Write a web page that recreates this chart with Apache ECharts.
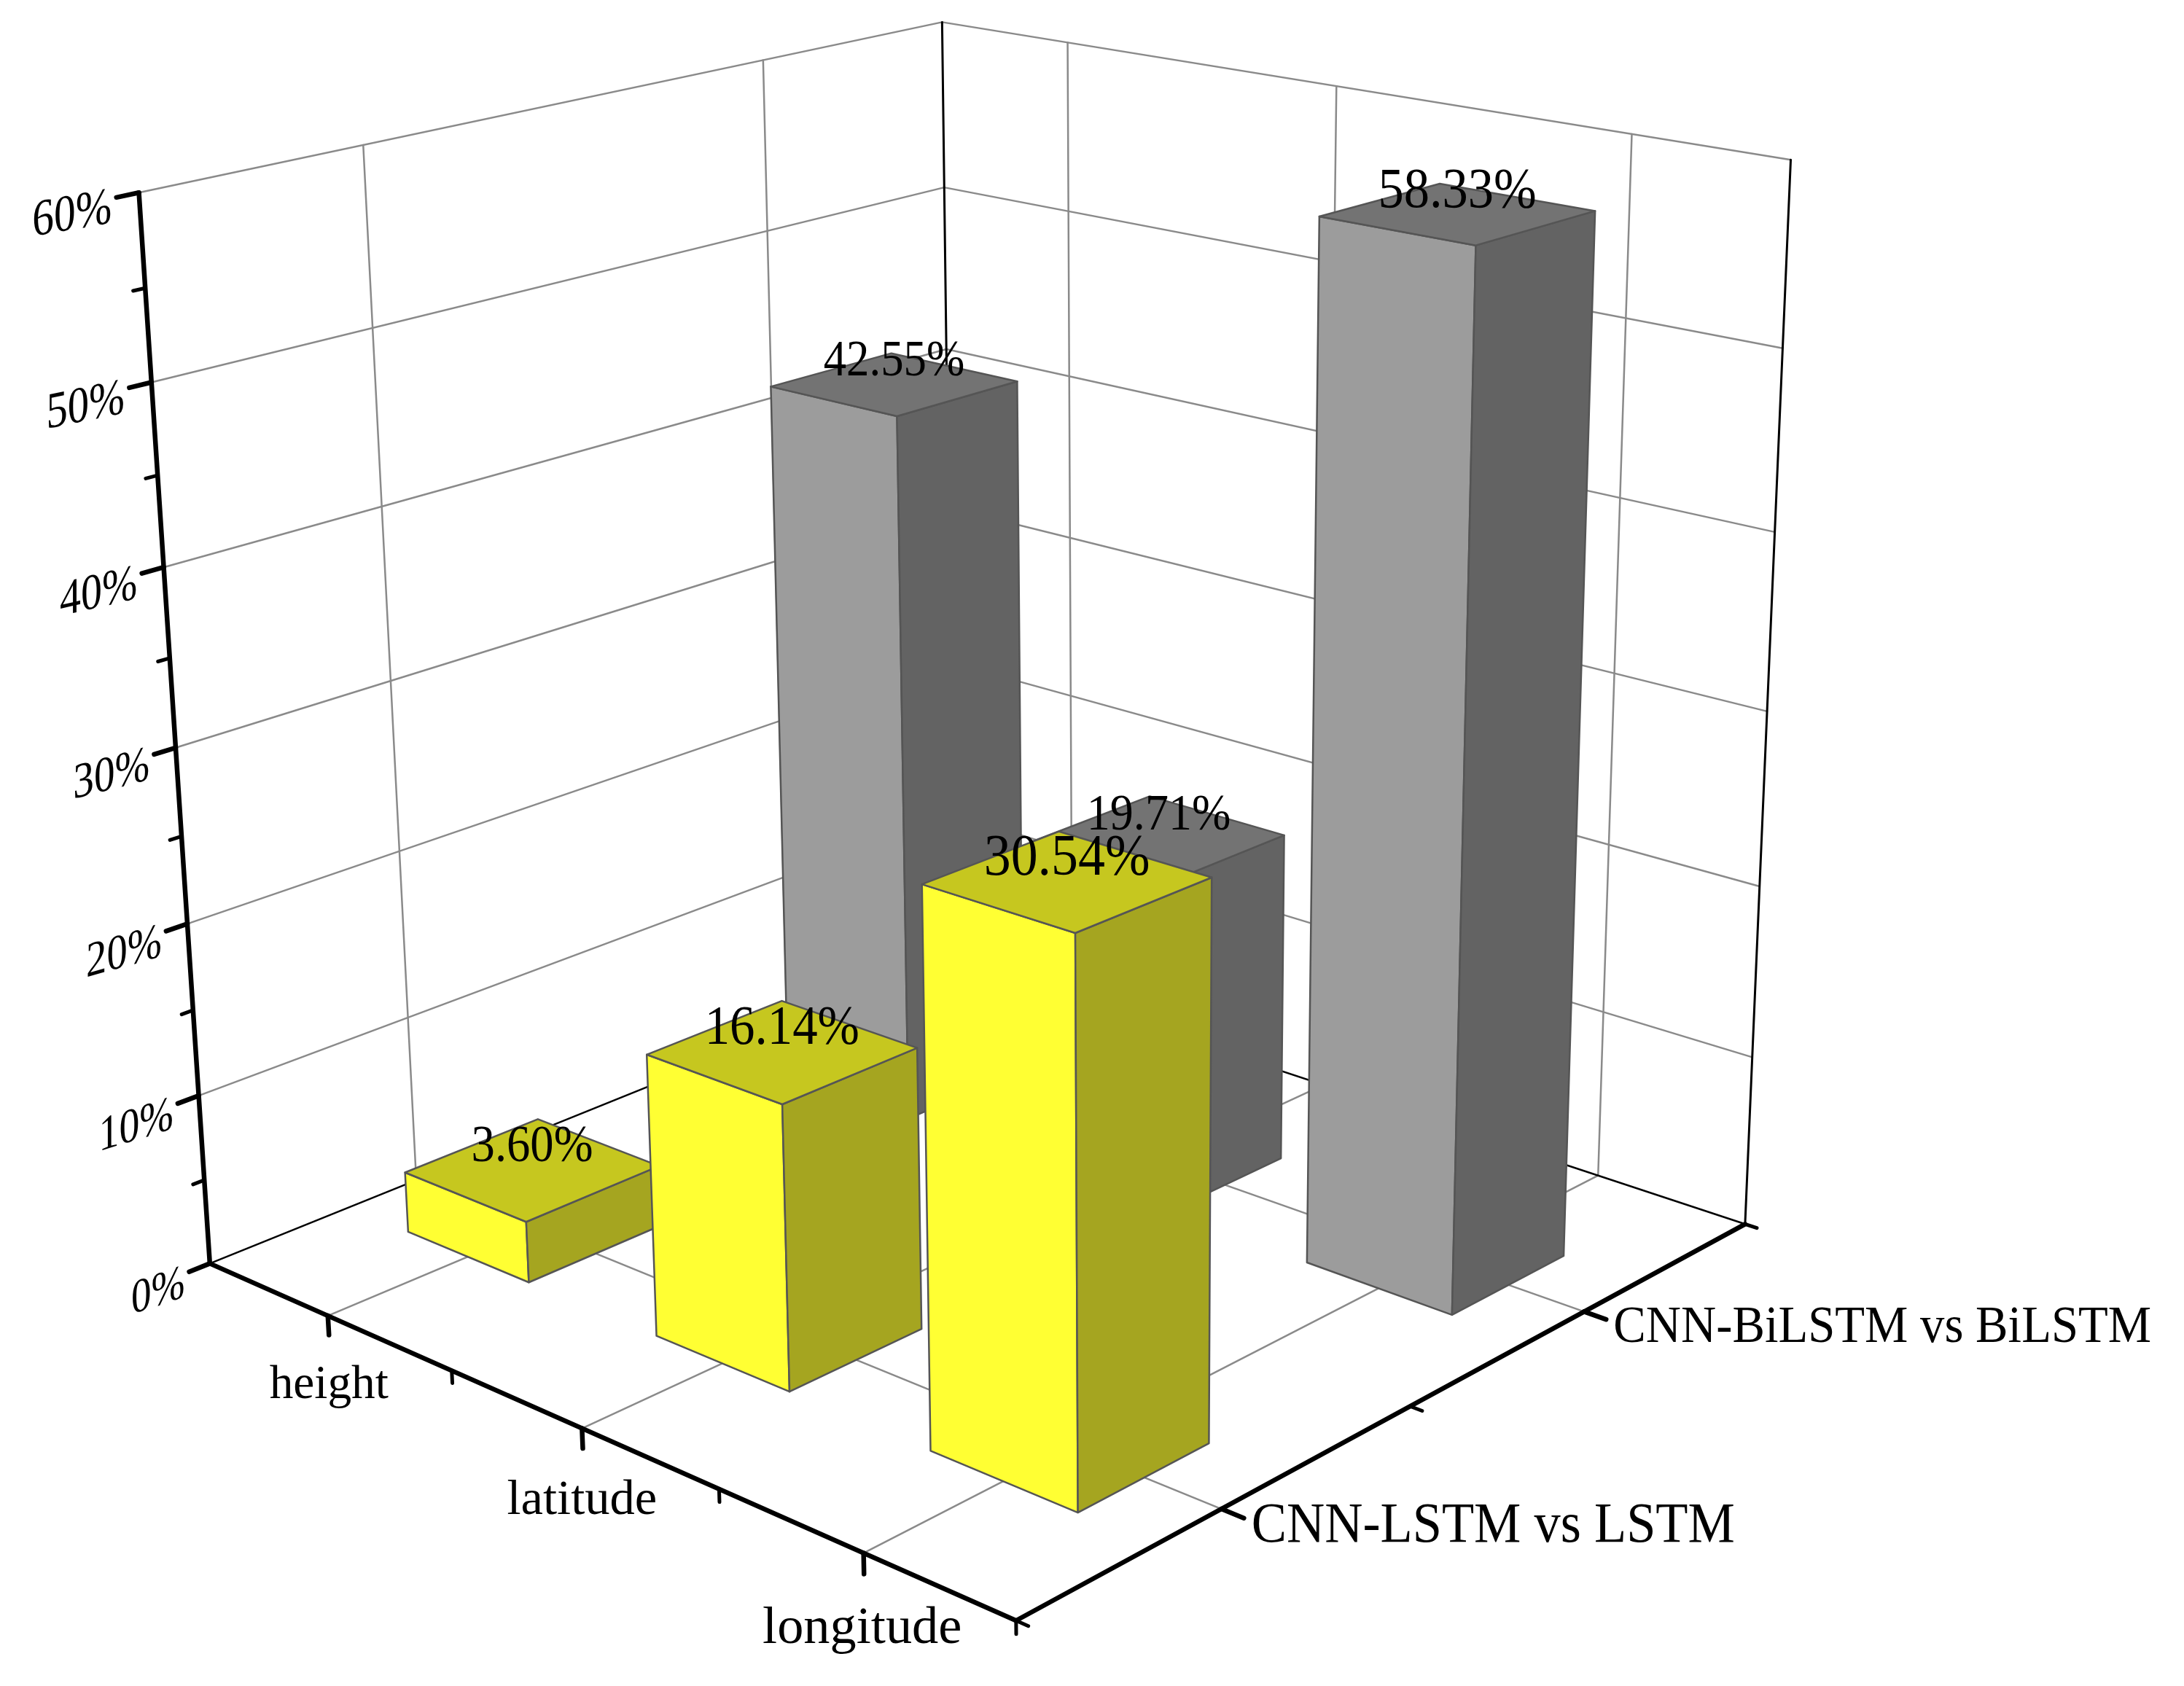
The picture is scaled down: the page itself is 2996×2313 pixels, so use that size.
<!DOCTYPE html>
<html><head><meta charset="utf-8">
<style>html,body{margin:0;padding:0;background:#fff}#c{width:2996px;height:2313px}</style>
<script src="https://cdn.jsdelivr.net/npm/echarts@6/dist/echarts.min.js"></script>
</head><body><div id="c"></div>
<script>
// ---- data ----
const categories = ['height', 'latitude', 'longitude'];
const comparisons = ['CNN-LSTM vs LSTM', 'CNN-BiLSTM vs BiLSTM'];
const lstmGain = [3.60, 16.14, 30.54];
const bilstmGain = [42.55, 19.71, 58.33];
const valueTicks = [0, 10, 20, 30, 40, 50, 60];
const valueMinorTicks = [5, 15, 25, 35, 45, 55];

// ---- camera: where the plot box's corners fall on the page ([a,b,c] -> [px,py]) ----
const calib = [
  [0,0,0, 290,1733],[1,0,0, 1393,2224],[1,1,0, 2396,1678],[0,1,0, 1306,1322],
  [0,0,1, 189,264],[0,1,1, 1295,30],[1,1,1, 2455,220]
];
function solve(A, y) {
  const n = A.length, M = A.map((r, i) => r.concat(y[i]));
  for (let i = 0; i < n; i++) {
    let p = i; for (let k = i + 1; k < n; k++) if (Math.abs(M[k][i]) > Math.abs(M[p][i])) p = k;
    [M[i], M[p]] = [M[p], M[i]];
    for (let k = 0; k < n; k++) if (k !== i) {
      const f = M[k][i] / M[i][i];
      for (let j = i; j <= n; j++) M[k][j] -= f * M[i][j];
    }
  }
  return M.map((r, i) => r[n] / r[i]);
}
const cam = (function () {
  const rows = [], rhs = [];
  calib.forEach(([a, b, c, X, Y]) => {
    rows.push([a,b,c,1,0,0,0,0,-X*a,-X*b,-X*c]); rhs.push(X);
    rows.push([0,0,0,0,a,b,c,1,-Y*a,-Y*b,-Y*c]); rhs.push(Y);
  });
  const N = Array.from({length:11}, (_, i) => Array.from({length:11}, (_, j) => rows.reduce((s, r) => s + r[i]*r[j], 0)));
  const v = Array.from({length:11}, (_, i) => rows.reduce((s, r, k) => s + r[i]*rhs[k], 0));
  return solve(N, v);
})();
function depth(a, b, c) { return cam[8]*a + cam[9]*b + cam[10]*c + 1; }
function proj(a, b, c) {
  const w = depth(a, b, c);
  return [(cam[0]*a + cam[1]*b + cam[2]*c + cam[3]) / w, (cam[4]*a + cam[5]*b + cam[6]*c + cam[7]) / w];
}
const FONT = '"Liberation Serif","Times New Roman",serif';
const BOX = 1000;               // hidden unit grid, read back as 0..1 box coordinates
const HALF_A = 0.083, HALF_B = 0.083;
const C_GRID = '#8a8a8a', C_BLACK = '#000';
const PALETTE = [
  {front:'#FFFF33', side:'#A5A520', top:'#C6C71F'},
  {front:'#9C9C9C', side:'#636363', top:'#737373'}
];
const LABEL_STRETCH = 1.2;
function size(k, a, b, c) { return k * depth(0.5, 0.5, 0) / depth(a, b, c); }

function seg(p, q, color, width) {
  const P = proj.apply(null, p), Q = proj.apply(null, q);
  return {type:'line', shape:{x1:P[0], y1:P[1], x2:Q[0], y2:Q[1]}, style:{stroke:color, lineWidth:width, lineCap:'round'}};
}
function label(text, p, fs, align, vAlign, extra, dx, dy) {
  const P = proj.apply(null, p);
  return Object.assign({type:'text', x:P[0] + (dx || 0), y:P[1] + (dy || 0), z2:50,
    style:{text, font:`${fs}px ${FONT}`, fill:'#000', align, verticalAlign:vAlign}}, extra || {});
}
function boxCoord(api, i, v) {
  const pt = api.coord([i, v]);
  return [pt[0] / BOX, 1 - pt[1] / BOX];
}

function renderFrame(params, api) {
  const kids = [];
  const cOf = v => boxCoord(api, 0, v)[1];
  const aOf = i => boxCoord(api, i, 0)[0];
  const bOf = i => (i + 0.5) / comparisons.length;
  const nA = categories.length, nB = comparisons.length;
  // value gridlines on both walls
  valueTicks.forEach(v => {
    const c = cOf(v);
    if (v > 0) { kids.push(seg([0,0,c],[0,1,c],C_GRID,2.5)); kids.push(seg([0,1,c],[1,1,c],C_GRID,2.5)); }
  });
  categories.forEach((_, i) => {
    const a = aOf(i);
    kids.push(seg([a,0,0],[a,1,0],C_GRID,2.5));
    kids.push(seg([a,1,0],[a,1,1],C_GRID,2.5));
  });
  comparisons.forEach((_, j) => {
    const b = bOf(j);
    kids.push(seg([0,b,0],[1,b,0],C_GRID,2.5));
    kids.push(seg([0,b,0],[0,b,1],C_GRID,2.5));
  });
  // thin black back edges
  kids.push(seg([0,0,0],[0,1,0],C_BLACK,2.5));
  kids.push(seg([0,1,0],[1,1,0],C_BLACK,2.5));
  kids.push(seg([0,1,0],[0,1,1],C_BLACK,3));
  kids.push(seg([1,1,0],[1,1,1],C_BLACK,3));
  // thick axes
  kids.push(seg([0,0,0],[0,0,1],C_BLACK,6.5));
  kids.push(seg([0,0,0],[1,0,0],C_BLACK,6.5));
  kids.push(seg([1,0,0],[1,1,0],C_BLACK,6.5));
  // value ticks + labels
  valueTicks.forEach(v => {
    const c = cOf(v);
    kids.push(seg([0,0,c],[0,-0.024,c],C_BLACK,6.5));
    const A = proj(0,0,c), B = proj(0,-0.05,c);
    const slope = (B[1]-A[1]) / (B[0]-A[0]);
    kids.push(label(v + '%', [0,-0.029,c], size(55,0,0,c), 'right', 'middle',
      {scaleY:LABEL_STRETCH, skewY: -Math.atan(slope / LABEL_STRETCH)}, 0, 14));
  });
  valueMinorTicks.forEach(v => { const c = cOf(v); kids.push(seg([0,0,c],[0,-0.013,c],C_BLACK,5)); });
  // category ticks + labels
  categories.forEach((name, i) => {
    const a = aOf(i);
    kids.push(seg([a,0,0],[a,0,-0.019],C_BLACK,6.5));
    kids.push(label(name, [a,0,-0.069], size(63.5,a,0,0), 'center', 'middle', null, -4, 0));
  });
  for (let i = 1; i <= nA; i++) { const a = i / nA; kids.push(seg([a,0,0],[a,0,-0.012],C_BLACK,5)); }
  // comparison ticks + labels
  comparisons.forEach((name, j) => {
    const b = bOf(j);
    kids.push(seg([1,b,0],[1.024,b,0],C_BLACK,6.5));
    kids.push(label(name, [1.032,b,0], size(64.5,1,b,0), 'left', 'middle', {scaleY:1.08}, 0, 8));
  });
  for (let j = 0; j <= nB; j++) { const b = j / nB; kids.push(seg([1,b,0],[1.013,b,0],C_BLACK,5)); }
  return {type:'group', children:kids};
}

function poly(pts, fill) {
  return {type:'polygon', shape:{points:pts.map(p => proj.apply(null, p))},
    style:{fill, stroke:'#555', lineWidth:2.5, lineJoin:'round'}};
}
function renderBar(params, api) {
  const j = api.value(2);
  const idx = api.value(0), val = api.value(1);
  const a = boxCoord(api, idx, 0)[0], c = boxCoord(api, idx, val)[1];
  const b = (j + 0.5) / comparisons.length;
  const col = PALETTE[j];
  const a0=a-HALF_A, a1=a+HALF_A, b0=b-HALF_B, b1=b+HALF_B;
  return {type:'group', children:[
    poly([[a0,b0,0],[a1,b0,0],[a1,b0,c],[a0,b0,c]], col.front),
    poly([[a1,b0,0],[a1,b1,0],[a1,b1,c],[a1,b0,c]], col.side),
    poly([[a0,b0,c],[a1,b0,c],[a1,b1,c],[a0,b1,c]], col.top)
  ]};
}
function renderValueLabel(params, api) {
  const j = api.value(2), idx = api.value(0), val = api.value(1);
  const a = boxCoord(api, idx, 0)[0], c = boxCoord(api, idx, val)[1];
  const b = (j + 0.5) / comparisons.length;
  const P = proj(a, b, c);
  return {type:'text', x:P[0], y:P[1] - 30, z2:60, scaleY:1.1,
    style:{text: val.toFixed(2) + '%', font:`${size(65,a,b,c)}px ${FONT}`, fill:'#000', align:'center', verticalAlign:'middle'}};
}

const barsOf = (arr, j) => arr.map((v, i) => [i, v, j]);
const chart = echarts.init(document.getElementById('c'), null, {renderer:'canvas'});
chart.setOption({
  animation:false, backgroundColor:'#fff',
  tooltip:{show:false},
  grid:{left:0, top:0, width:BOX, height:BOX, containLabel:false},
  xAxis:{type:'category', data:categories, show:false},
  yAxis:{type:'value', min:0, max:60, interval:10, show:false},
  series:[
    {type:'custom', renderItem:renderFrame, data:[[0,0,0]], z:1, silent:true, clip:false},
    {type:'custom', name:comparisons[1], renderItem:renderBar, data:barsOf(bilstmGain,1), z:2, silent:true, clip:false},
    {type:'custom', name:comparisons[0], renderItem:renderBar, data:barsOf(lstmGain,0), z:3, silent:true, clip:false},
    {type:'custom', renderItem:renderValueLabel, data:barsOf(bilstmGain,1).concat(barsOf(lstmGain,0)), z:4, silent:true, clip:false}
  ]
});
</script></body></html>
